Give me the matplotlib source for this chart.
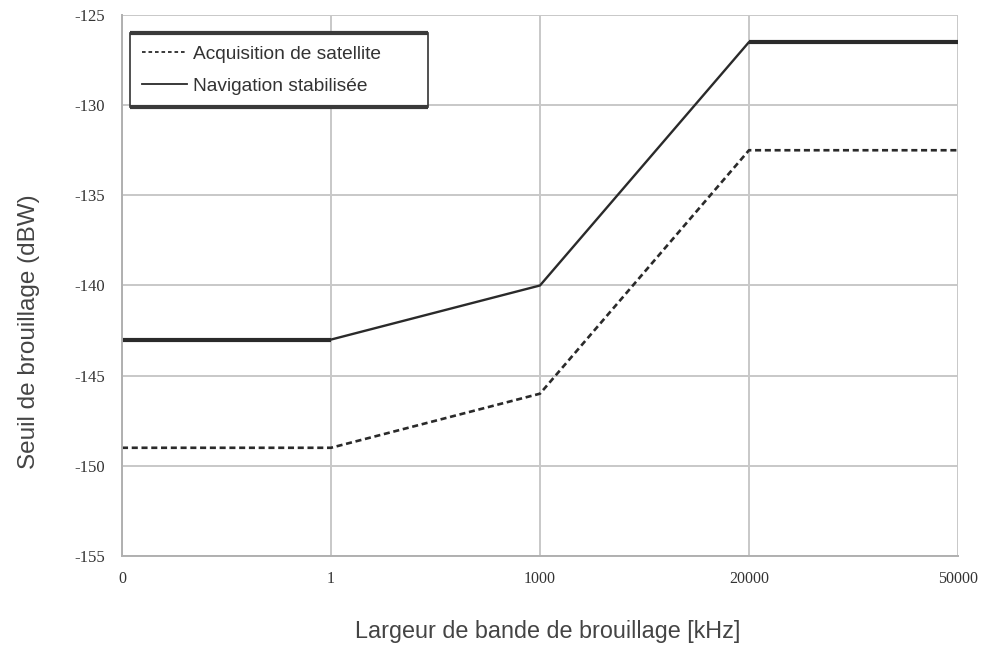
import matplotlib
matplotlib.use("Agg")
import matplotlib.pyplot as plt
from matplotlib.lines import Line2D

# Bande de brouillage (kHz) -- catégories régulièrement espacées
bandwidths = ["0", "1", "1000", "20000", "50000"]
# Seuils de brouillage (dBW)
acquisition = [-149, -149, -146, -132.5, -132.5]
navigation = [-143, -143, -140, -126.5, -126.5]
y_ticks = [-155, -150, -145, -140, -135, -130, -125]

serif = ["Liberation Serif", "DejaVu Serif"]
sans = ["Liberation Sans", "DejaVu Sans"]
ink = "#2a2a2a"

fig = plt.figure(figsize=(9.86, 6.64), dpi=100)
ax = fig.add_axes([0.1237, 0.1627, 0.8479, 0.8147])

x = list(range(len(bandwidths)))
ax.plot(x, navigation, color=ink, lw=1.7, solid_capstyle="butt",
        solid_joinstyle="round")
# paliers plats de la navigation, trait plus épais
ax.plot(x[:2], navigation[:2], color=ink, lw=3.0, solid_capstyle="butt")
ax.plot(x[3:], navigation[3:], color=ink, lw=3.0, solid_capstyle="butt")
ax.plot(x, acquisition, color=ink, lw=1.9, ls=(0, (2.3, 1.4)))

ax.set_xlim(0, len(bandwidths) - 1)
ax.set_ylim(-155, -125)
ax.set_xticks(x)
ax.set_xticklabels(bandwidths, family=serif, fontsize=11.5, color="#333333")
ax.set_yticks(y_ticks)
ax.set_yticklabels([str(v) for v in y_ticks], family=serif, fontsize=12,
                   color="#333333")
ax.tick_params(length=0)
ax.tick_params(axis="x", pad=11)
ax.tick_params(axis="y", pad=12)

ax.grid(True, color="#c8c8c8", lw=1.4)
ax.set_axisbelow(True)
for side in ["top", "right"]:
    ax.spines[side].set_visible(False)
for side in ["left", "bottom"]:
    ax.spines[side].set_color("#b0b0b0")
    ax.spines[side].set_linewidth(1.4)

ax.set_ylabel("Seuil de brouillage (dBW)", family=sans, fontsize=17.5,
              color="#444444")
ax.yaxis.set_label_coords(-0.098, 0.414)
ax.set_xlabel("Largeur de bande de brouillage [kHz]", family=sans,
              fontsize=16.8, color="#444444")
ax.xaxis.set_label_coords(0.509, -0.118)

handles = [
    Line2D([], [], color=ink, lw=1.3, ls=(0, (2.0, 1.6))),
    Line2D([], [], color=ink, lw=1.3),
]
leg = ax.legend(handles, ["Acquisition de satellite", "Navigation stabilisée"],
                loc="upper left", mode="expand",
                bbox_to_anchor=(0.0096, 0.0, 0.3565, 0.967),
                prop={"family": sans, "size": 13.8},
                handlelength=2.35, handletextpad=0.3, borderpad=0.65,
                labelspacing=0.76, fancybox=False, framealpha=1,
                borderaxespad=0)
leg.get_frame().set_edgecolor("#333333")
leg.get_frame().set_linewidth(1.2)
for t in leg.get_texts():
    t.set_color("#333333")

# bords haut et bas du cadre de légende renforcés
fig.canvas.draw()
bb = leg.get_window_extent().transformed(fig.transFigure.inverted())
for yy in (bb.y0, bb.y1):
    fig.add_artist(Line2D([bb.x0, bb.x1], [yy, yy], transform=fig.transFigure,
                          color="#3a3a3a", lw=3.0, solid_capstyle="butt"))

fig.savefig("out.png", dpi=100, facecolor="white")
